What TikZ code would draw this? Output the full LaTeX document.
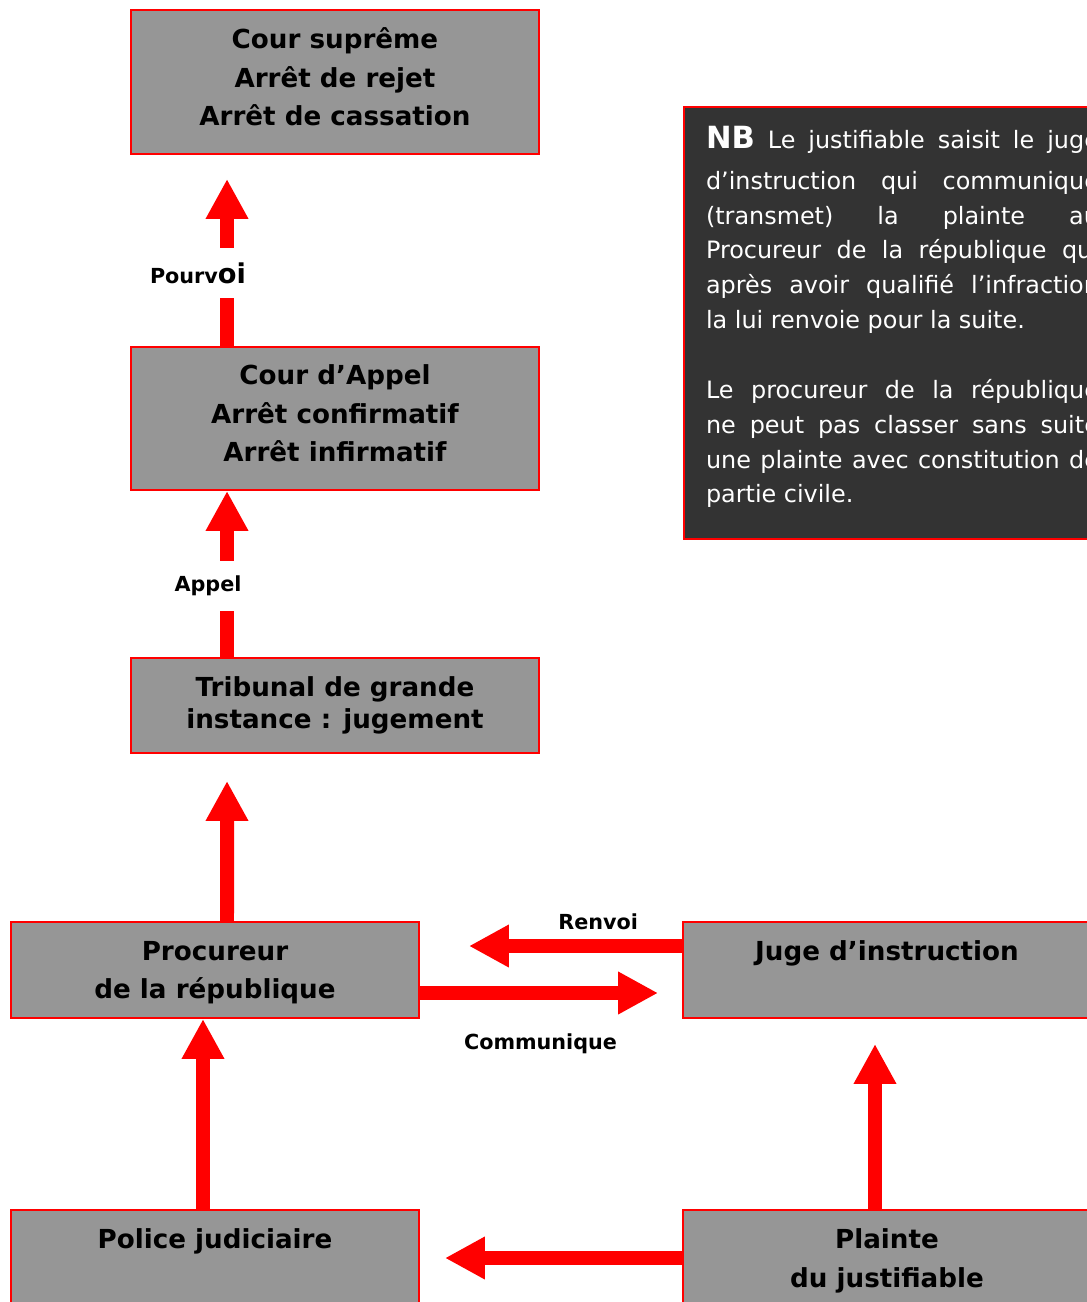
\documentclass[tikz,border=0pt]{standalone}
\usepackage{fontspec}
\setmainfont{DejaVu Sans}
\usepackage{tikz}
\usetikzlibrary{arrows.meta}
\usetikzlibrary{positioning}

\definecolor{gris}{RGB}{150,150,150}
\definecolor{rouge}{RGB}{255,0,0}
\definecolor{sombre}{RGB}{51,51,51}

\begin{document}
\begin{tikzpicture}[x=0.02cm,y=-0.02cm]
\tikzset{
    boite/.style={
              rectangle,
                   draw=rouge,
                   line width=0.04cm,
                   fill=gris,
                   minimum width=8.16cm,
                   align=center,
                   font=\fontsize{14.9}{21.9}\selectfont\bfseries
    },
    fleche/.style={
              draw=rouge,
                   line width=0.28cm,
                   -{Triangle[length=0.8cm,width=0.8cm]}
    },
    etiq/.style={
              font=\fontsize{11.8}{14}\selectfont\bfseries
    }
}
    \useasboundingbox (0,0) rectangle (1087,1302);
    \clip (0,0) rectangle (1087,1302);

    \node (cs)[boite,minimum height=2.88cm,text depth=0.2cm] at (335,82) {Cour suprême\\Arrêt de rejet\\Arrêt de cassation};
    \node (ca)[boite,minimum height=2.86cm,text depth=0.2cm] at (335,418.5) {Cour d’Appel\\Arrêt confirmatif\\Arrêt infirmatif};
    \node (tgi)[boite,minimum height=1.9cm,font=\fontsize{14.9}{18.1}\selectfont\bfseries] at (335,705.5) {Tribunal de grande\\instance : jugement};
    \node (proc)[boite,minimum height=1.92cm,text depth=0cm] at (215,970) {Procureur\\de la république};
    \node (juge)[boite,minimum height=1.92cm] at (887,970) {Juge d’instruction\\ \mbox{}};
    \node (police)[boite,minimum height=1.92cm] at (215,1258) {Police judiciaire\\ \mbox{}};
    \node (plainte)[boite,minimum height=1.92cm,text depth=0cm] at (887,1258) {Plainte\\du justifiable};

    \node (nb)[anchor=north west,draw=rouge,line width=0.04cm,fill=sombre,text=white,
        text width=7.86cm,inner xsep=0.44cm,minimum height=8.64cm,align=justify,
        font=\fontsize{13.6}{19.84}\selectfont] at (683,106)
        {{\fontsize{17.4}{19.84}\selectfont\bfseries NB} Le justifiable saisit le juge\vadjust{\vskip0.12cm}\linebreak
        d’instruction qui communique\linebreak
        (transmet) la plainte au\linebreak
        Procureur de la république qui\linebreak
        après avoir qualifié l’infraction\linebreak
        la lui renvoie pour la suite.\par\vspace{19.84pt}
        Le procureur de la république\linebreak
        ne peut pas classer sans suite\linebreak
        une plainte avec constitution de\linebreak
        partie civile.\par\vspace{0.24cm}};

    \draw[fleche,shorten >=0.48cm] ([xshift=-2.16cm]ca.north) -- node[etiq,fill=white,pos=0.383,xshift=-0.58cm,minimum height=1cm] {Pourv{\fontsize{15.5}{16}\selectfont oi}} ([xshift=-2.16cm]cs.south);
    \draw[fleche] ([xshift=-2.16cm]tgi.north) -- node[etiq,fill=white,pos=0.43,xshift=-0.38cm,minimum height=1cm] {Appel} ([xshift=-2.16cm]ca.south);
    \draw[fleche,shorten >=0.54cm] ([xshift=0.24cm]proc.north) -- ([xshift=-2.16cm]tgi.south);
    \draw[fleche,shorten >=0.98cm] ([yshift=0.48cm]juge.west) -- node[etiq,pos=0.32,above=0.07cm] {Renvoi} ([yshift=0.48cm]proc.east);
    \draw[fleche,shorten >=0.48cm] ([yshift=-0.46cm]proc.east) -- node[etiq,pos=0.46,below=0.56cm] {Communique} ([yshift=-0.46cm]juge.west);
    \draw[fleche] ([xshift=-0.24cm]police.north) -- ([xshift=-0.24cm]proc.south);
    \draw[fleche,shorten >=0.5cm] ([xshift=-0.24cm]plainte.north) -- ([xshift=-0.24cm]juge.south);
    \draw[fleche,shorten >=0.5cm] (plainte.west) -- (police.east);

\end{tikzpicture}
\end{document}
